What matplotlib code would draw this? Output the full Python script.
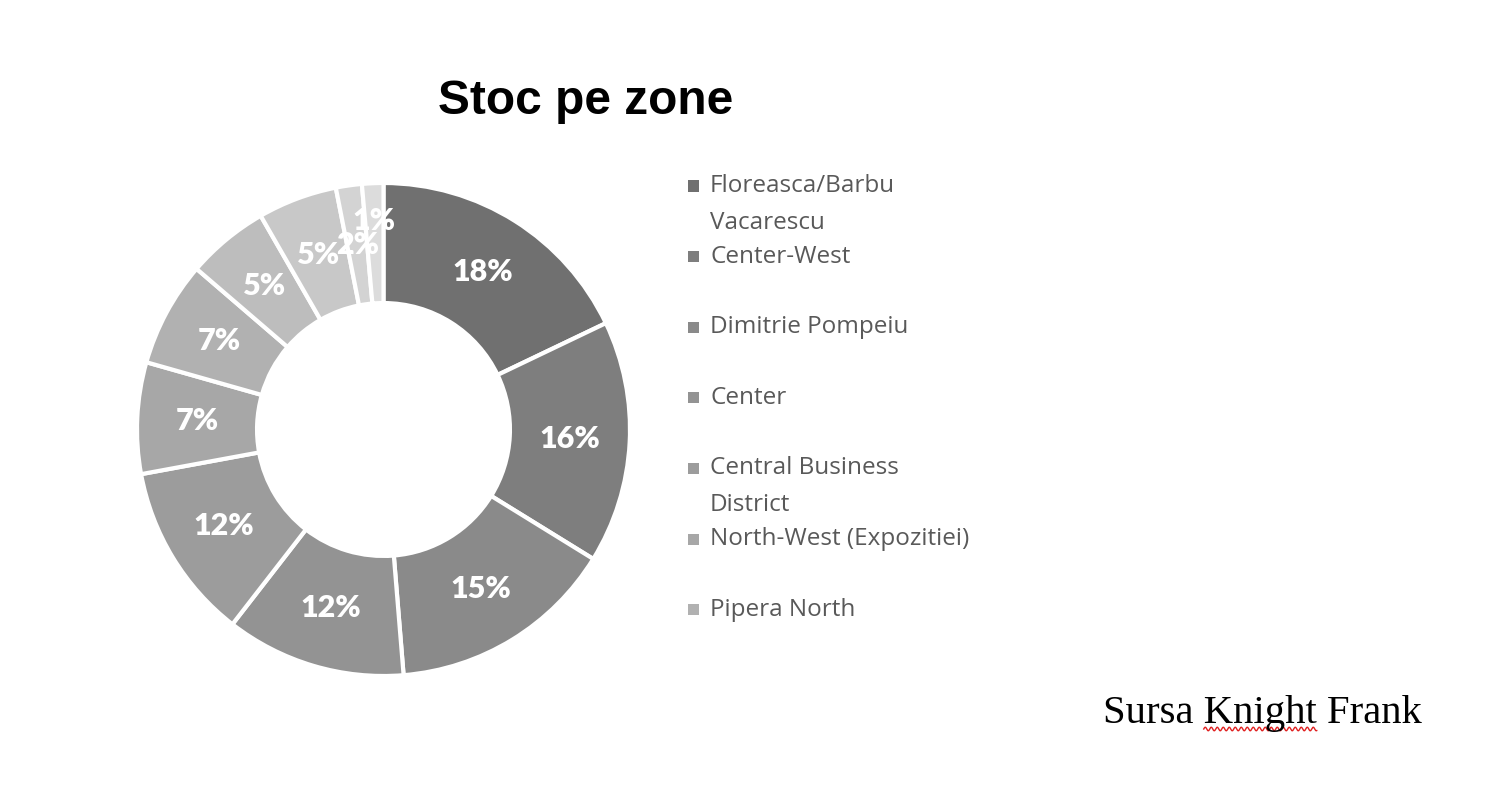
import numpy as np
import matplotlib
matplotlib.use('Agg')
import matplotlib.pyplot as plt
from matplotlib.lines import Line2D
from matplotlib.patches import Rectangle

# share of office stock per zone (%), clockwise from 12 o'clock
values = [17.9, 15.9, 14.9, 11.8, 11.6, 7.3, 6.9, 5.4, 5.2, 1.7, 1.4]
colors = ['#707070', '#7e7e7e', '#8a8a8a', '#939393', '#9c9c9c', '#a7a7a7',
          '#b1b1b1', '#bdbdbd', '#c8c8c8', '#d3d3d3', '#dcdcdc']
# only the first seven zones are named in the legend
legend_names = ['Floreasca/Barbu\nVacarescu', 'Center-West', 'Dimitrie Pompeiu',
                'Center', 'Central Business\nDistrict', 'North-West (Expozitiei)',
                'Pipera North']

W, H = 1486, 786
fig = plt.figure(figsize=(W / 100, H / 100), dpi=100)
fig.patch.set_facecolor('white')

# donut: centre (383.5, 429.5) px, outer radius 246.5 px
cx, cy, r = 383.5, 429.5, 246.5
ax = fig.add_axes([(cx - r) / W, (H - cy - r) / H, 2 * r / W, 2 * r / H])
wedges, texts, autotexts = ax.pie(
    values, colors=colors, startangle=90, counterclock=False,
    autopct='%.0f%%', pctdistance=0.757,
    wedgeprops=dict(width=0.487, edgecolor='white', linewidth=3),
    textprops=dict(color='white', fontsize=22, fontweight='heavy', family='Lato'))
# last small label is pushed outward so it does not sit on top of the 2% label
px, py = autotexts[-1].get_position()
autotexts[-1].set_position((px * 1.12, py * 1.12))
ax.set_xlim(-1, 1)
ax.set_ylim(-1, 1)
ax.set_aspect('equal')
ax.axis('off')

fig.text(586 / W, 1 - 101 / H, 'Stoc pe zone', ha='center', va='center',
         fontsize=34.5, fontweight='bold', family='Liberation Sans', color='black')

# legend drawn by hand: entries evenly spaced, wrapped lines spill below
y0, step, line_h = 186, 70.6, 37
for i, name in enumerate(legend_names):
    yc = y0 + i * step
    fig.patches.append(Rectangle(((693.5 - 5.5) / W, 1 - (yc + 5.5) / H), 11 / W, 11 / H,
                                 transform=fig.transFigure,
                                 facecolor=wedges[i].get_facecolor(), edgecolor='none'))
    for k, line in enumerate(name.split('\n')):
        fig.text(710 / W, 1 - (yc + k * line_h) / H, line, ha='left', va='center',
                 fontsize=17.5, family='Open Sans', color='#595959')

# source note with the spell-check squiggle under "Knight"
fs_src = 29.3
src = fig.text(1103 / W, 1 - 723 / H, 'Sursa Knight Frank', ha='left', va='baseline',
               fontsize=fs_src, family='Liberation Serif', color='black')
fig.canvas.draw()
rend = fig.canvas.get_renderer()
pre = fig.text(1103 / W, 1 - 723 / H, 'Sursa ', ha='left', va='baseline',
               fontsize=fs_src, family='Liberation Serif', alpha=0)
upto = fig.text(1103 / W, 1 - 723 / H, 'Sursa Knight', ha='left', va='baseline',
                fontsize=fs_src, family='Liberation Serif', alpha=0)
xa = pre.get_window_extent(rend).x1
xb = upto.get_window_extent(rend).x1
xs = np.linspace(xa, xb, 200)
ys = (H - 729) + 1.8 * np.sin((xs - xa) / 6.0 * 2 * np.pi)
fig.lines.append(Line2D(xs / W, ys / H, transform=fig.transFigure, color='#e02020',
                        linewidth=1.0))

fig.savefig('out.png', dpi=100, facecolor='white')
